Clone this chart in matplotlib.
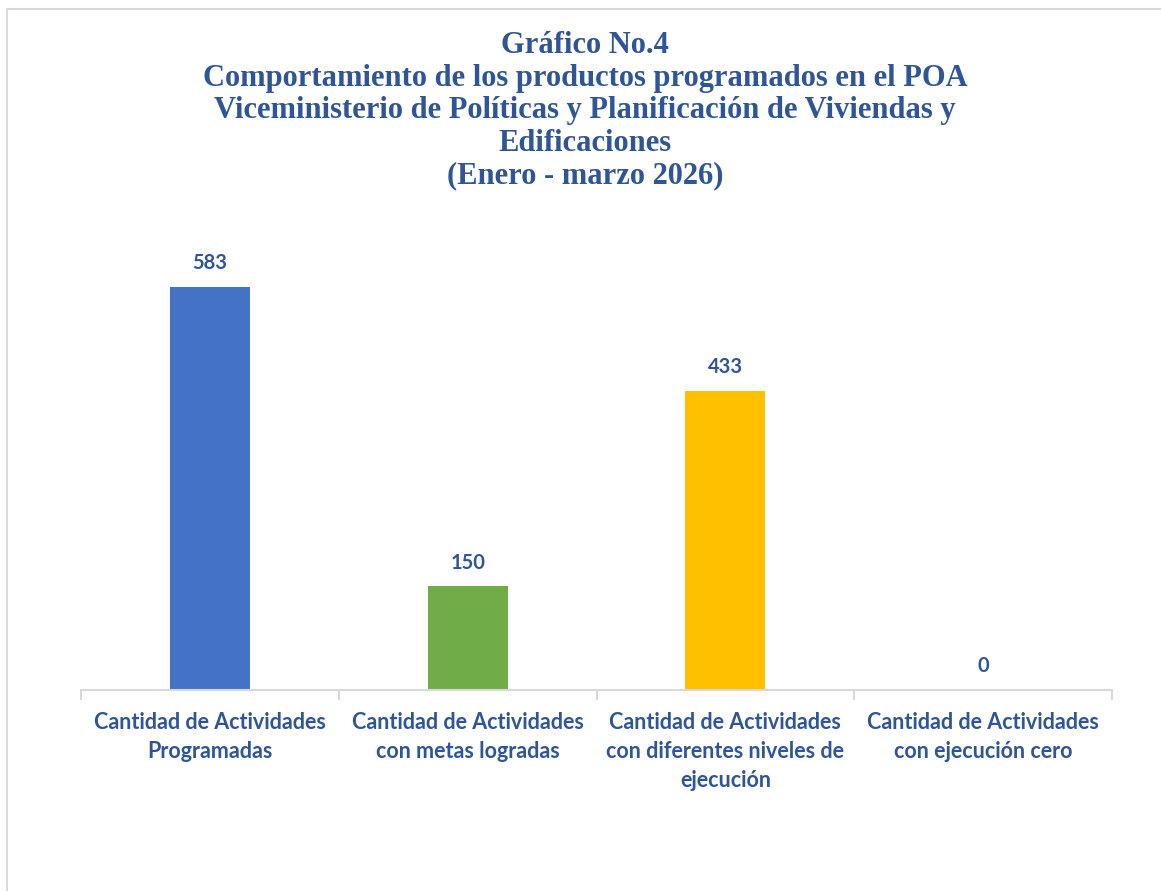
import matplotlib
matplotlib.use('Agg')
import matplotlib.pyplot as plt
from matplotlib.patches import Rectangle

categorias = [
    'Cantidad de Actividades\nProgramadas',
    'Cantidad de Actividades\ncon metas logradas',
    'Cantidad de Actividades\ncon diferentes niveles de\nejecución',
    'Cantidad de Actividades\ncon ejecución cero',
]
valores = [583, 150, 433, 0]
colores = ['#4472C4', '#70AD47', '#FFC000', '#A5A5A5']

titulo = ('Gráfico No.4\n'
          'Comportamiento de los productos programados en el POA\n'
          'Viceministerio de Políticas y Planificación de Viviendas y\n'
          'Edificaciones\n'
          '(Enero - marzo 2026)')

AZUL = '#2F5597'
W, H = 1161, 891

fig = plt.figure(figsize=(W / 100, H / 100), dpi=100)
fig.patches.append(Rectangle((7 / W, -0.1), 1.2, 1 - 9 / H + 0.1, transform=fig.transFigure,
                             fill=False, edgecolor='#D9D9D9', linewidth=1.5))

ax = fig.add_axes([81 / W, (H - 690) / H, (1112 - 81) / W, (690 - 206) / H])
x = range(len(valores))
ax.bar(x, valores, width=0.31, color=colores)
ax.set_xlim(-0.5, len(valores) - 0.5)
ax.set_ylim(0, 700)

for xi, v in zip(x, valores):
    ax.annotate(str(v), (xi, v), xytext=(0, 17), textcoords='offset points',
                ha='center', va='center', fontsize=14.5, fontweight='bold',
                color=AZUL, family='Lato')

for s in ['top', 'right', 'left']:
    ax.spines[s].set_visible(False)
ax.spines['bottom'].set_color('#D9D9D9')
ax.spines['bottom'].set_linewidth(1.5)
ax.set_yticks([])
ax.set_xticks([-0.5, 0.5, 1.5, 2.5, 3.5], minor=False)
ax.set_xticklabels([])
ax.tick_params(axis='x', length=7, color='#D9D9D9', width=1.5)
ax.set_xticks(list(x), minor=True)
ax.set_xticklabels(categorias, minor=True, fontsize=15.5, fontweight='bold',
                   color=AZUL, family='Lato', linespacing=1.47)
ax.tick_params(axis='x', which='minor', length=0, pad=16)
for lbl in ax.get_xticklabels(minor=True):
    lbl.set_verticalalignment('top')

fig.text(585 / W, 1 - 31 / H, titulo, ha='center', va='top', fontsize=22,
         fontweight='bold', color=AZUL, family='Liberation Serif', linespacing=1.16)

fig.savefig('out.png', dpi=100, facecolor='white')
